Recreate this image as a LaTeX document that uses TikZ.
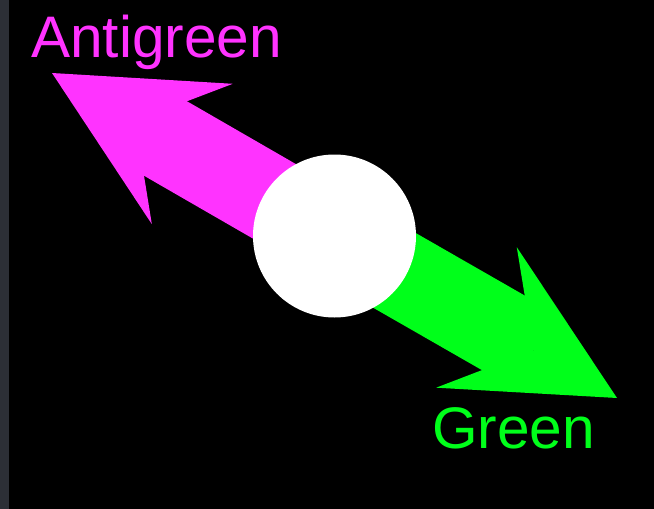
\documentclass[tikz,border=0pt]{standalone}
\usepackage{fontspec}
\setmainfont{Liberation Sans}
\usetikzlibrary{positioning,arrows.meta}

\definecolor{anti}{RGB}{255,51,255}
\definecolor{grn}{RGB}{0,255,26}
\definecolor{strip}{RGB}{44,47,54}

\begin{document}
\begin{tikzpicture}[
x=1pt, y=-1pt,
hub/.style={circle, fill=white, minimum size=163pt, inner sep=0pt},
arrow/.style={line width=86pt, -{Stealth[length=162pt, width=162pt, inset=66pt, line width=0pt]}},
label/.style={anchor=base west, inner sep=0pt, font=\fontsize{58.6}{60}\selectfont}
]

% frame
\fill[black] (0,0) rectangle (654,509);
\fill[strip] (0,0) rectangle (9,509);
\useasboundingbox (0,0) rectangle (654,509);

\coordinate (mid) at (334.5,236);
\coordinate (antitip) at (52,73);
\coordinate (greentip) at (617,398);

\draw[arrow, anti] (mid) -- (antitip);
\draw[arrow, grn] (mid) -- (greentip);

\node[hub] (hub) at (mid) {};

\node[label, text=anti] (antilabel) at (31,57) {Antigreen};
\node[label, text=grn] (greenlabel) at (432,448) {Green};

\end{tikzpicture}
\end{document}
